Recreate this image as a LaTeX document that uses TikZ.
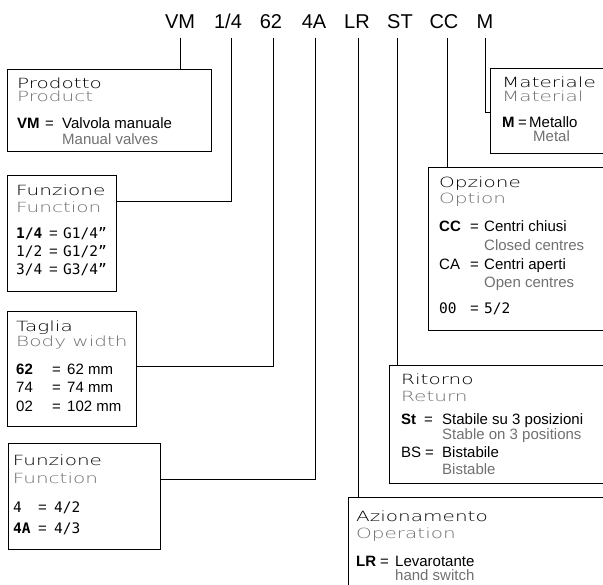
\documentclass[tikz,border=0pt]{standalone}
\usepackage{fontspec}
\setmainfont{Liberation Sans}
\newfontfamily\hdfnt[FakeStretch=1.43]{DejaVu Sans ExtraLight}
\newfontfamily\mnfnt{DejaVu Sans Mono}
\definecolor{engray}{HTML}{707070}
\tikzset{
  box/.style={draw, line width=1pt, anchor=north west, inner sep=0pt},
  wire/.style={line width=1pt},
  code/.style={anchor=base, inner sep=0pt, font=\fontsize{20}{20}\selectfont},
  txt/.style={anchor=base west, inner sep=0pt, font=\fontsize{15}{15}\selectfont},
  en/.style={txt, text=engray},
  keyb/.style={txt, font=\bfseries\fontsize{15}{15}\selectfont},
  hd/.style={anchor=base west, inner sep=0pt, font=\hdfnt\fontsize{14}{14}\selectfont},
  hden/.style={hd, text=engray},
  mono/.style={anchor=base west, inner sep=0pt, font=\mnfnt\fontsize{14.5}{14.5}\selectfont},
  monob/.style={mono, font=\mnfnt\bfseries\fontsize{14.5}{14.5}\selectfont}
}
\begin{document}
\begin{tikzpicture}[x=1pt,y=-1pt]
\useasboundingbox (0,0) rectangle (603,585);
\clip (0,0) rectangle (603,585);
% code
\node[code] (cVM) at (180,29) {VM};
\node[code] (c14) at (228,29) {1/4};
\node[code] (c62) at (271,29) {62};
\node[code] (c4A) at (314,29) {4A};
\node[code] (cLR) at (357,29) {LR};
\node[code] (cST) at (400,29) {ST};
\node[code] (cCC) at (444,29) {CC};
\node[code] (cM) at (485,29) {M};
\coordinate (tVM) at ([yshift=-9pt]cVM.base);
\coordinate (t14) at ([xshift=3pt,yshift=-9pt]c14.base);
\coordinate (t62) at ([xshift=2pt,yshift=-9pt]c62.base);
\coordinate (t4A) at ([xshift=1pt,yshift=-9pt]c4A.base);
\coordinate (tLR) at ([xshift=1pt,yshift=-9pt]cLR.base);
\coordinate (tST) at ([xshift=-3pt,yshift=-9pt]cST.base);
\coordinate (tCC) at ([xshift=3pt,yshift=-9pt]cCC.base);
\coordinate (tM) at ([yshift=-9pt]cM.base);
% boxes
\node[box, minimum width=204pt, minimum height=82pt] (prod) at (7,69) {};
\node[box, minimum width=109pt, minimum height=116pt] (fun1) at (7,175) {};
\node[box, minimum width=129pt, minimum height=115pt] (tag) at (7,311) {};
\node[box, minimum width=152pt, minimum height=106pt] (fun2) at (8,443) {};
\node[box, minimum width=130pt, minimum height=85pt] (mat) at (490,68) {};
\node[box, minimum width=190pt, minimum height=163pt] (opz) at (428,167) {};
\node[box, minimum width=230pt, minimum height=118pt] (rit) at (389,365) {};
\node[box, minimum width=270pt, minimum height=110pt] (azi) at (348,497) {};
% connectors
\draw[wire] (tVM) -- (tVM |- prod.north);
\draw[wire] (t14) |- ([yshift=-26.7pt]fun1.north east);
\draw[wire] (t62) |- ([yshift=-56pt]tag.north east);
\draw[wire] (t4A) |- ([yshift=-37pt]fun2.north east);
\draw[wire] (tLR) -- (tLR |- azi.north);
\draw[wire] (tST) -- (tST |- rit.north);
\draw[wire] (tCC) -- (tCC |- opz.north);
\draw[wire] (tM) |- ([yshift=-45pt]mat.north west);
% Prodotto
\node[hd] (prodH) at (17,89) {Prodotto};
\node[hden] (prodE) at (17,102) {Product};
\node[keyb] (prodK) at (17,129) {VM};
\node[txt] (prodQ) at (45,129) {=};
\node[txt] (prodV) at (62,129) {Valvola manuale};
\node[en] (prodW) at (62,145) {Manual valves};
% Funzione 1
\node[hd] (f1H) at (16,196) {Funzione};
\node[hden] (f1E) at (16,212.7) {Function};
\node[monob] (f1K1) at (16,239) {1/4};
\node[txt] (f1Q1) at (49,239) {=};
\node[mono] (f1V1) at (63,239) {G1/4”};
\node[mono] (f1K2) at (16,257) {1/2};
\node[txt] (f1Q2) at (49,257) {=};
\node[mono] (f1V2) at (63,257) {G1/2”};
\node[mono] (f1K3) at (16,275) {3/4};
\node[txt] (f1Q3) at (49,275) {=};
\node[mono] (f1V3) at (63,275) {G3/4”};
% Taglia
\node[hd] (tgH) at (16,331.7) {Taglia};
\node[hden] (tgE) at (16,347) {Body width};
\node[keyb] (tgK1) at (16,375) {62};
\node[txt] (tgQ1) at (52,375) {=};
\node[txt] (tgV1) at (67,375) {62 mm};
\node[txt] (tgK2) at (16,393) {74};
\node[txt] (tgQ2) at (52,393) {=};
\node[txt] (tgV2) at (67,393) {74 mm};
\node[txt] (tgK3) at (16,411.7) {02};
\node[txt] (tgQ3) at (52,411.7) {=};
\node[txt] (tgV3) at (67,411.7) {102 mm};
% Funzione 2
\node[hd] (f2H) at (12.7,466) {Funzione};
\node[hden] (f2E) at (12.7,483) {Function};
\node[mono] (f2K1) at (13,512.7) {4};
\node[txt] (f2Q1) at (38,512.7) {=};
\node[mono] (f2V1) at (54,512.7) {4/2};
\node[monob] (f2K2) at (13,533) {4A};
\node[txt] (f2Q2) at (38,533) {=};
\node[mono] (f2V2) at (54,533) {4/3};
% Materiale
\node[hd] (mtH) at (502,88) {Materiale};
\node[hden] (mtE) at (502,101.7) {Material};
\node[keyb] (mtK) at (502,128) {M};
\node[txt] (mtQ) at (518,128) {=};
\node[txt] (mtV) at (529,128) {Metallo};
\node[en] (mtW) at (533,141.7) {Metal};
% Opzione
\node[hd] (opH) at (439,187.7) {Opzione};
\node[hden] (opE) at (439,204) {Option};
\node[keyb] (opK1) at (439,231.7) {CC};
\node[txt] (opQ1) at (470,231.7) {=};
\node[txt] (opV1) at (484,231.7) {Centri chiusi};
\node[en] (opW1) at (484,250.7) {Closed centres};
\node[txt] (opK2) at (439,270) {CA};
\node[txt] (opQ2) at (470,270) {=};
\node[txt] (opV2) at (484,270) {Centri aperti};
\node[en] (opW2) at (484,288) {Open centres};
\node[mono] (opK3) at (439,314) {00};
\node[txt] (opQ3) at (470,314) {=};
\node[mono] (opV3) at (484,314) {5/2};
% Ritorno
\node[hd] (rtH) at (401,385) {Ritorno};
\node[hden] (rtE) at (401,401.7) {Return};
\node[keyb] (rtK1) at (401,425) {St};
\node[txt] (rtQ1) at (424,425) {=};
\node[txt] (rtV1) at (442,425) {Stabile su 3 posizioni};
\node[en] (rtW1) at (442,440) {Stable on 3 positions};
\node[txt] (rtK2) at (401,458) {BS};
\node[txt] (rtQ2) at (425,458) {=};
\node[txt] (rtV2) at (442,458) {Bistabile};
\node[en] (rtW2) at (442,475) {Bistable};
% Azionamento
\node[hd] (azH) at (356,521.7) {Azionamento};
\node[hden] (azE) at (356,538) {Operation};
\node[keyb] (azK) at (356,566) {LR};
\node[txt] (azQ) at (380,566) {=};
\node[txt] (azV) at (395,566) {Levarotante};
\node[en] (azW) at (395,580.7) {hand switch};
\end{tikzpicture}
\end{document}
